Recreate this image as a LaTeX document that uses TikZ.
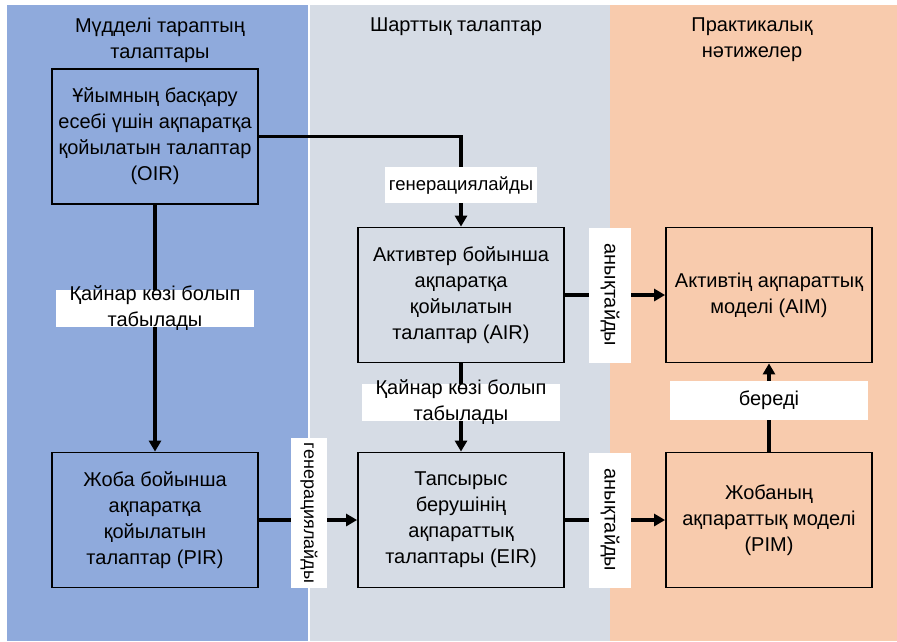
\documentclass[tikz,border=0pt]{standalone}
\usepackage{fontspec}
\setmainfont{Liberation Sans}
\usepackage{tikz}
\usetikzlibrary{arrows.meta}

\definecolor{partyBlue}{HTML}{8FAADC}
\definecolor{termGrey}{HTML}{D6DCE5}
\definecolor{resultPeach}{HTML}{F8CBAD}

\begin{document}
\begin{tikzpicture}[
    x=1pt, y=-1pt, % pixel-like coordinates, y grows downwards
    every node/.style={font=\fontsize{20}{26}\selectfont}, % one text size everywhere
    reqbox/.style={draw=black, line width=1.8pt, align=center, inner sep=0pt,
        minimum width=206pt, minimum height=135pt},
    tag/.style={fill=white, align=center, inner sep=0pt},
    flow/.style={-{Triangle[length=11pt, width=12pt]}, line width=3.4pt}
]
    \useasboundingbox (0, 0) rectangle (897, 641);

    % Column backgrounds
    \fill[partyBlue] (7, 5) rectangle (308, 641);
    \fill[termGrey] (310, 5) rectangle (610, 641);
    \fill[resultPeach] (610, 5) rectangle (897, 641);

    % Column headings
    \node[align=center] (HeadParty) at (160, 40) {Мүдделі тараптың\\талаптары};
    \node (HeadTerm) at (456, 27) {Шарттық талаптар};
    \node[align=center] (HeadResult) at (752, 40) {Практикалық\\нәтижелер};

    % Requirement boxes, top row
    \node[reqbox, fill=partyBlue] (OIR) at (155, 136.5)
        {Ұйымның басқару\\есебі үшін ақпаратқа\\қойылатын талаптар\\(OIR)};
    \node[reqbox, fill=termGrey] (AIR) at (461, 295)
        {Активтер бойынша\\ақпаратқа\\қойылатын\\талаптар (AIR)};
    \node[reqbox, fill=resultPeach] (AIM) at (769, 295)
        {Активтің ақпараттық\\моделі (AIM)};

    % Requirement boxes, bottom row
    \node[reqbox, fill=partyBlue] (PIR) at (155, 520)
        {Жоба бойынша\\ақпаратқа\\қойылатын\\талаптар (PIR)};
    \node[reqbox, fill=termGrey] (EIR) at (461, 520)
        {Тапсырыс\\берушінің\\ақпараттық\\талаптары (EIR)};
    \node[reqbox, fill=resultPeach] (PIM) at (769, 520)
        {Жобаның\\ақпараттық моделі\\(PIM)};

    % 1. OIR to AIR (right, then down)
    \draw[flow] (OIR.east) -| (AIR.north)
        node[tag, pos=0.77, minimum width=152pt, minimum height=36pt,
            font=\fontsize{18.5}{24}\selectfont] {генерациялайды};

    % 2. OIR to PIR (down)
    \draw[flow] (OIR) -- (PIR)
        node[tag, pos=0.42, minimum width=198pt, inner ysep=-4pt] {Қайнар көзі болып\\табылады};

    % 3. AIR to EIR (down)
    \draw[flow] (AIR) -- (EIR)
        node[tag, pos=0.44, minimum width=198pt, inner ysep=-4pt] {Қайнар көзі болып\\табылады};

    % 4. PIR to EIR (right, rotated label sits a bit high)
    \draw[flow] (PIR) -- (EIR)
        node[tag, pos=0.51, yshift=7pt, rotate=-90, minimum width=150pt, minimum height=36pt,
            font=\fontsize{18}{24}\selectfont] {генерациялайды};

    % 5. AIR to AIM and EIR to PIM (right, rotated labels)
    \draw[flow] (AIR) -- (AIM)
        node[tag, pos=0.45, rotate=-90, minimum width=135pt, minimum height=42pt] {анықтайды};
    \draw[flow] (EIR) -- (PIM)
        node[tag, pos=0.45, rotate=-90, minimum width=135pt, minimum height=42pt] {анықтайды};

    % 6. PIM to AIM (up)
    \draw[flow] (PIM) -- (AIM)
        node[tag, pos=0.58, minimum width=198pt, minimum height=39pt] {береді};

\end{tikzpicture}
\end{document}
